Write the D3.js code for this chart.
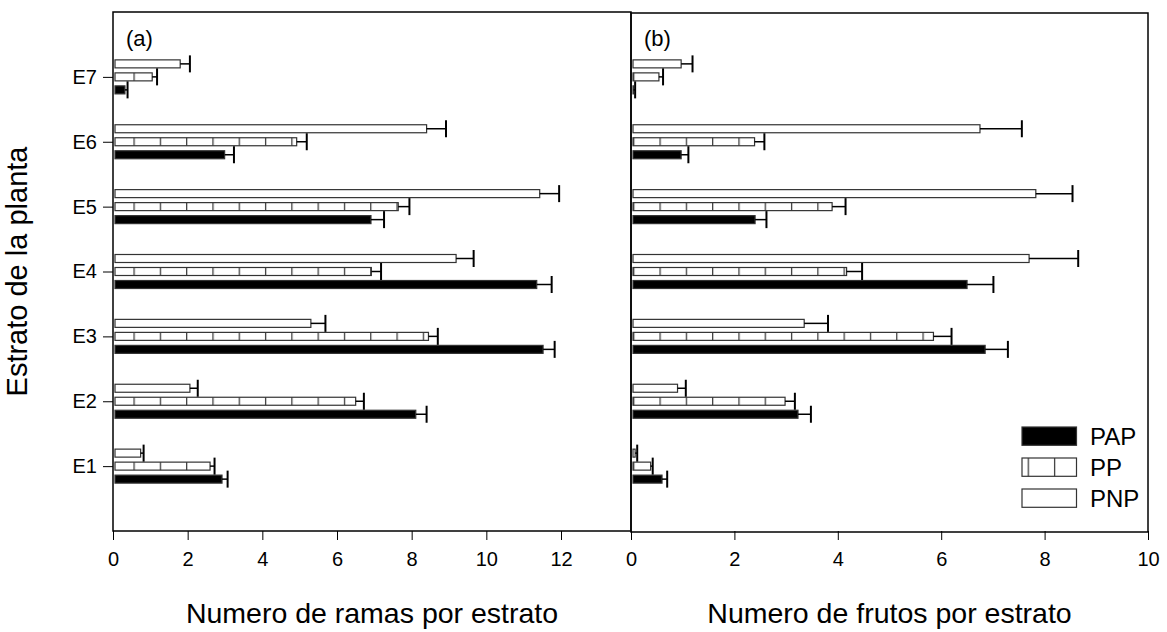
<!DOCTYPE html>
<html><head><meta charset="utf-8">
<script src="https://cdn.jsdelivr.net/npm/d3@7"></script>
<style>
body{margin:0;background:#fff}
svg text{font-family:"Liberation Sans",Arial,Helvetica,sans-serif;fill:#000}
</style>
</head><body>
<svg id="chart" width="1167" height="632"></svg>
<script>
// ---------- data ----------
const categories = ["E1","E2","E3","E4","E5","E6","E7"];
const seriesNames = ["PAP","PP","PNP"];

// (a) Numero de ramas por estrato
const ramasPAP    = [2.92, 8.11, 11.52, 11.35, 6.91, 2.99, 0.32];
const ramasPAPse  = [0.15, 0.29, 0.31, 0.40, 0.35, 0.25, 0.07];
const ramasPP     = [2.60, 6.50, 8.45, 6.92, 7.64, 4.92, 1.05];
const ramasPPse   = [0.12, 0.22, 0.25, 0.26, 0.30, 0.27, 0.13];
const ramasPNP    = [0.74, 2.06, 5.30, 9.19, 11.43, 8.40, 1.80];
const ramasPNPse  = [0.08, 0.21, 0.39, 0.47, 0.52, 0.52, 0.26];

// (b) Numero de frutos por estrato
const frutosPAP   = [0.60, 3.23, 6.85, 6.50, 2.40, 0.97, 0.05];
const frutosPAPse = [0.10, 0.25, 0.44, 0.51, 0.22, 0.14, 0.03];
const frutosPP    = [0.38, 2.98, 5.85, 4.17, 3.89, 2.39, 0.54];
const frutosPPse  = [0.04, 0.19, 0.35, 0.30, 0.26, 0.19, 0.08];
const frutosPNP   = [0.08, 0.90, 3.35, 7.70, 7.83, 6.75, 0.97];
const frutosPNPse = [0.04, 0.16, 0.46, 0.95, 0.71, 0.81, 0.22];

const ticksA = [0,2,4,6,8,10,12];
const ticksB = [0,2,4,6,8,10];

const titleA = "Numero de ramas por estrato";
const titleB = "Numero de frutos por estrato";
const titleY = "Estrato de la planta";

// ---------- layout ----------
const svg = d3.select("#chart");
const yTop = 12, yBottom = 531;
const y = d3.scaleLinear().domain([0, 8]).range([yBottom, yTop]);
const xA = d3.scaleLinear().domain([0, 12]).range([113, 561]);
const xB = d3.scaleLinear().domain([0, 10]).range([631, 1148]);
const offset = d3.scaleBand().domain(["PNP","PP","PAP"]).range([-17, 17]).paddingInner(5/13).paddingOuter(0);

const defs = svg.append("defs");
const pat = defs.append("pattern").attr("id","hatch")
  .attr("patternUnits","userSpaceOnUse").attr("width",26.3).attr("height",20);
pat.append("rect").attr("width",26.3).attr("height",20).attr("fill","#fff");
pat.append("line").attr("x1",2.6).attr("x2",2.6).attr("y1",0).attr("y2",20)
  .attr("stroke","#333").attr("stroke-width",1.2);

const fills = {PAP:"#000", PP:"url(#hatch)", PNP:"#fff"};

function panel(x, data, ticks, label, title, xEnd){
  const x0 = x.range()[0];
  const rows = [];
  categories.forEach((c,i)=>{
    seriesNames.forEach(s=>{
      rows.push({cat:i+1, s, v:data[s][0][i], se:data[s][1][i]});
    });
  });
  const g = svg.append("g");
  g.selectAll("rect.bar").data(rows).enter().append("rect")
    .attr("class","bar")
    .attr("x", x0 + 2)
    .attr("y", d => y(d.cat) + offset(d.s))
    .attr("width", d => Math.max(0, x(d.v) - x0 - 2))
    .attr("height", offset.bandwidth())
    .attr("fill", d => fills[d.s])
    .attr("stroke", "#333").attr("stroke-width", 1.2);
  const cy = d => y(d.cat) + offset(d.s) + offset.bandwidth()/2;
  g.selectAll("line.eb").data(rows).enter().append("line")
    .attr("x1", d => x(d.v)).attr("x2", d => x(d.v + d.se))
    .attr("y1", cy).attr("y2", cy)
    .attr("stroke","#000").attr("stroke-width",1.5);
  g.selectAll("line.cap").data(rows).enter().append("line")
    .attr("x1", d => x(d.v + d.se)).attr("x2", d => x(d.v + d.se))
    .attr("y1", d => cy(d) - 8.5).attr("y2", d => cy(d) + 8.5)
    .attr("stroke","#000").attr("stroke-width",2);
  const ax = svg.append("g").attr("transform",`translate(0,${yBottom})`)
    .call(d3.axisBottom(x).tickValues(ticks).tickFormat(d3.format("d"))
      .tickSize(9).tickSizeOuter(0).tickPadding(12));
  ax.select(".domain").remove();
  ax.selectAll(".tick line").attr("stroke","#000").attr("stroke-width",1);
  ax.selectAll(".tick text").attr("font-size",20).attr("font-family",null);
  svg.append("text").attr("x", x0 + 13).attr("y", 46).attr("font-size",22).text(label);
  svg.append("text").attr("x",(x0+xEnd)/2).attr("y",623).attr("text-anchor","middle")
    .attr("font-size",28.5).text(title);
}

panel(xA, {PAP:[ramasPAP,ramasPAPse], PP:[ramasPP,ramasPPse], PNP:[ramasPNP,ramasPNPse]}, ticksA, "(a)", titleA, xB.range()[0]);
panel(xB, {PAP:[frutosPAP,frutosPAPse], PP:[frutosPP,frutosPPse], PNP:[frutosPNP,frutosPNPse]}, ticksB, "(b)", titleB, xB.range()[1]);

// frames
svg.append("rect").attr("x",xA.range()[0]).attr("y",yTop)
  .attr("width",xB.range()[0]-xA.range()[0]).attr("height",yBottom-yTop)
  .attr("fill","none").attr("stroke","#000").attr("stroke-width",1.5);
svg.append("rect").attr("x",xB.range()[0]).attr("y",yTop+1)
  .attr("width",xB.range()[1]-xB.range()[0]).attr("height",yBottom-yTop)
  .attr("fill","none").attr("stroke","#000").attr("stroke-width",1.5);

// y axis
const ay = svg.append("g").attr("transform",`translate(${xA.range()[0]},0)`)
  .call(d3.axisLeft(y).tickValues(d3.range(1, categories.length+1))
    .tickFormat(d => categories[d-1]).tickSize(10).tickSizeOuter(0).tickPadding(6));
ay.select(".domain").remove();
ay.selectAll(".tick line").attr("stroke","#000");
ay.selectAll(".tick text").attr("font-size",20).attr("font-family",null);

svg.append("text").attr("transform",`translate(27,${(yTop+yBottom)/2}) rotate(-90)`)
  .attr("text-anchor","middle").attr("font-size",29).text(titleY);

// legend
const lg = svg.append("g");
const ly = d3.scaleBand().domain(seriesNames).range([427, 520]);
seriesNames.forEach(s=>{
  lg.append("rect").attr("x",1022).attr("y",ly(s)).attr("width",54.5).attr("height",18.3)
    .attr("fill",fills[s]).attr("stroke","#333").attr("stroke-width",1.2);
  lg.append("text").attr("x",1090).attr("y",ly(s)+18).attr("font-size",24).text(s);
});
</script>
</body></html>
